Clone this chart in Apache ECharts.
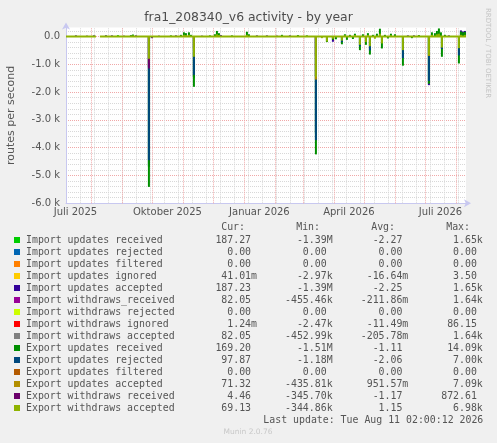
<!DOCTYPE html>
<html>
<head>
<meta charset="utf-8">
<script src="https://cdn.jsdelivr.net/npm/echarts@6.0.0/dist/echarts.min.js"></script>
<style>
  html, body { margin: 0; padding: 0; background: #f0f0f0; }
  #main { width: 497px; height: 443px; }
</style>
</head>
<body>
<div id="main"></div>
<script>
// series names, in munin draw order
const names = [
  'Import updates received',
  'Import updates rejected',
  'Import updates filtered',
  'Import updates ignored',
  'Import updates accepted',
  'Import withdraws_received',
  'Import withdraws rejected',
  'Import withdraws ignored',
  'Import withdraws accepted',
  'Export updates received',
  'Export updates rejected',
  'Export updates filtered',
  'Export updates accepted',
  'Export withdraws received',
  'Export withdraws accepted'
]

const colors = ['#00cc00', '#0066b3', '#ff8000', '#ffcc00', '#330099', '#990099', '#ccff00', '#ff0000',
  '#808080', '#008f00', '#00487d', '#b35a00', '#b38f00', '#6b006b', '#8fb300']

// legend table (as printed)
const curText = ['187.27', '0.00', '0.00', '41.01m', '187.23', '82.05', '0.00', '1.24m', '82.05', '169.20', '97.87', '0.00', '71.32', '4.46', '69.13']
const minText = ['-1.39M', '0.00', '0.00', '-2.97k', '-1.39M', '-455.46k', '0.00', '-2.47k', '-452.99k', '-1.51M', '-1.18M', '0.00', '-435.81k', '-345.70k', '-344.86k']
const avgText = ['-2.27', '0.00', '0.00', '-16.64m', '-2.25', '-211.86m', '0.00', '-11.49m', '-205.78m', '-1.11', '-2.06', '0.00', '951.57m', '-1.17', '1.15']
const maxText = ['1.65k', '0.00', '0.00', '3.50', '1.65k', '1.64k', '0.00', '86.15', '1.64k', '14.09k', '7.00k', '0.00', '7.09k', '872.61', '6.98k']

// days with data (gap in august 2025)
const coverage = [['2025-07-07', '2025-08-06'], ['2025-08-10', '2026-08-11']]

// routes per second, per day (days not listed are ~0)
const importUpdatesReceived = [
  ['2025-08-16', 30], ['2025-08-28', 50], ['2025-09-10', 50], ['2025-09-28', -4700],
  ['2025-11-12', -1500], ['2026-03-14', -3500], ['2026-07-05', -1700]
]
const importUpdatesRejected = []
const importUpdatesFiltered = []
const importUpdatesIgnored = []
const importUpdatesAccepted = [
  ['2025-07-17', 40], ['2025-07-28', 30], ['2025-08-04', 40], ['2025-08-16', 40], ['2025-08-22', 40],
  ['2025-09-03', 30], ['2025-09-10', 30], ['2025-09-15', 40], ['2025-09-28', -4650], ['2025-10-01', -60],
  ['2025-10-08', 30], ['2025-10-25', 40], ['2025-11-12', -1450], ['2025-11-20', 30], ['2025-12-09', 50],
  ['2026-01-14', 40], ['2026-01-24', 40], ['2026-02-03', 30], ['2026-02-16', 40], ['2026-03-14', -3450],
  ['2026-03-31', -190], ['2026-06-14', 40], ['2026-06-20', 40], ['2026-07-05', -1750], ['2026-07-25', 40],
  ['2026-08-06', 220], ['2026-08-08', 180], ['2026-08-10', 200]
]
const importWithdrawsReceived = [['2025-09-28', -1100], ['2026-03-14', -700]]
const importWithdrawsRejected = []
const importWithdrawsIgnored = []
const importWithdrawsAccepted = [['2025-09-28', -1080], ['2026-03-14', -700]]
const exportUpdatesReceived = [
  ['2025-09-12', 70], ['2025-09-28', -5410], ['2025-10-20', 40], ['2025-10-30', 60], ['2025-11-02', 150],
  ['2025-11-04', 120], ['2025-11-07', 150], ['2025-11-09', 60], ['2025-11-12', -1810], ['2025-11-28', 40],
  ['2025-12-03', 80], ['2025-12-05', 200], ['2025-12-07', 120], ['2025-12-20', 40], ['2026-01-04', 170],
  ['2026-01-06', 80], ['2026-02-08', 60], ['2026-02-24', 50], ['2026-03-05', 40], ['2026-03-14', -4240],
  ['2026-03-25', -200], ['2026-03-31', -120], ['2026-04-03', -100], ['2026-04-09', -280], ['2026-04-12', 80],
  ['2026-04-14', -120], ['2026-04-17', 60], ['2026-04-20', -90], ['2026-04-22', 100], ['2026-04-27', -490],
  ['2026-04-30', 80], ['2026-05-03', -300], ['2026-05-05', 120], ['2026-05-07', -650], ['2026-05-10', 60],
  ['2026-05-14', 100], ['2026-05-17', 280], ['2026-05-19', -430], ['2026-05-22', 60], ['2026-05-25', -70],
  ['2026-05-28', 100], ['2026-06-01', 80], ['2026-06-09', -1050], ['2026-06-18', -60], ['2026-06-25', 50],
  ['2026-07-05', -1700], ['2026-07-08', 150], ['2026-07-11', 120], ['2026-07-13', 200], ['2026-07-15', 290],
  ['2026-07-17', 150], ['2026-07-18', -730], ['2026-07-21', 60], ['2026-08-04', -970], ['2026-08-06', 180],
  ['2026-08-08', 150], ['2026-08-10', 170]
]
const exportUpdatesRejected = [
  ['2025-09-28', -4450], ['2025-11-12', -1380], ['2026-03-14', -3730], ['2026-04-09', -200], ['2026-04-27', -350],
  ['2026-05-07', -500], ['2026-06-09', -780], ['2026-07-05', -1600], ['2026-07-18', -450], ['2026-08-04', -680]
]
const exportUpdatesFiltered = []
const exportUpdatesAccepted = [['2025-09-28', -950], ['2025-11-12', -500], ['2026-03-14', -1550], ['2026-07-05', -700]]
const exportWithdrawsReceived = [['2025-09-28', -1150], ['2025-11-12', -400], ['2026-03-14', -1400]]
const exportWithdrawsAccepted = [
  ['2025-09-12', 30], ['2025-09-28', -800], ['2025-10-01', -20], ['2025-11-02', 60], ['2025-11-04', 50],
  ['2025-11-07', 60], ['2025-11-12', -730], ['2025-12-05', 80], ['2025-12-07', 50], ['2026-01-04', 60],
  ['2026-03-14', -1450], ['2026-03-20', -60], ['2026-03-25', -180], ['2026-03-31', -80], ['2026-04-09', -150],
  ['2026-04-12', 40], ['2026-04-22', 50], ['2026-04-27', -300], ['2026-05-03', -200], ['2026-05-05', 50],
  ['2026-05-07', -350], ['2026-05-12', -80], ['2026-05-17', 100], ['2026-05-19', -250], ['2026-05-28', 40],
  ['2026-06-09', -490], ['2026-07-05', -670], ['2026-07-08', 60], ['2026-07-13', 80], ['2026-07-15', 100],
  ['2026-07-18', -400], ['2026-08-04', -420], ['2026-08-06', 60], ['2026-08-10', 60]
]

const seriesData = [
  importUpdatesReceived, importUpdatesRejected, importUpdatesFiltered, importUpdatesIgnored, importUpdatesAccepted,
  importWithdrawsReceived, importWithdrawsRejected, importWithdrawsIgnored, importWithdrawsAccepted,
  exportUpdatesReceived, exportUpdatesRejected, exportUpdatesFiltered, exportUpdatesAccepted,
  exportWithdrawsReceived, exportWithdrawsAccepted
]

// x labels sit in the middle of these months
const labelMonths = ['2025-07', '2025-10', '2026-01', '2026-04', '2026-07']
const monthNames = ['Januar', 'Februar', 'März', 'April', 'Mai', 'Juni', 'Juli', 'August',
  'September', 'Oktober', 'November', 'Dezember']

const t = s => Date.parse(s + 'T00:00:00Z')
const xMin = Date.parse('2025-07-07T02:00:00Z')
const xMax = Date.parse('2026-08-11T02:00:00Z')

const labelValues = labelMonths.map(m => {
  const d = new Date(t(m + '-01'))
  const next = Date.UTC(d.getUTCFullYear(), d.getUTCMonth() + 1, 1)
  return (d.getTime() + next) / 2
})

// vertical grid: month starts (major) and every second monday (minor)
const gridMajor = '#f0a8a8'
const gridMinor = '#d8d8d8'
const vLines = []
for (let d = t('2025-07-21'); d < xMax; d += 14 * 86400000) {
  vLines.push({xAxis: d, lineStyle: {color: gridMinor, type: 'dotted', width: 1}})
}
for (let m = 7; ; m++) {
  const d = Date.UTC(2025, m, 1)
  if (d > xMax) break
  vLines.push({xAxis: d, lineStyle: {color: gridMajor, type: 'dotted', width: 1}})
}

const baseline = []
coverage.forEach(([a, b]) => {
  baseline.push([Math.max(t(a), xMin), 0], [Math.min(t(b), xMax), 0], [t(b) + 86400000, '-'])
})

const font = 'DejaVu Sans'
const mono = 'DejaVu Sans Mono'
const textColor = '#555'
const suffix = s => /[0-9]$/.test(s) ? s + ' ' : s

const tableTexts = []
const headers = [['Cur:', 221.2], ['Min:', 296.2], ['Avg:', 371.2], ['Max:', 446.2]]
headers.forEach(([txt, x]) => {
  tableTexts.push({
    type: 'text', x: x, y: 227.5, silent: true,
    style: {text: txt, fill: textColor, font: '9.9px ' + mono, align: 'left', verticalAlign: 'middle'}
  })
})
const cols = [[curText, 257], [minText, 332.6], [avgText, 408.3], [maxText, 482.8]]
names.forEach((n, i) => {
  cols.forEach(([arr, x]) => {
    tableTexts.push({
      type: 'text', x: x, y: 240 + i * 12, silent: true,
      style: {text: suffix(arr[i]), fill: textColor, font: '9.9px ' + mono, align: 'right', verticalAlign: 'middle'}
    })
  })
})
tableTexts.push({
  type: 'text', x: 483.3, y: 420, silent: true,
  style: {text: 'Last update: Tue Aug 11 02:00:12 2026', fill: textColor, font: '9.9px ' + mono, align: 'right', verticalAlign: 'middle'}
})
tableTexts.push({
  type: 'text', x: 248, y: 432.5, silent: true,
  style: {text: 'Munin 2.0.76', fill: '#c8c8c8', font: '7.5px ' + font, align: 'center', verticalAlign: 'middle'}
})
tableTexts.push({
  type: 'text', x: 487.7, y: 53, rotation: -Math.PI / 2, silent: true,
  style: {text: 'RRDTOOL / TOBI OETIKER', fill: '#c4c4c4', font: '7px ' + font, align: 'center', verticalAlign: 'middle'}
})

const series = names.map((name, i) => ({
  name: name,
  type: 'bar',
  data: seriesData[i].map(d => [t(d[0]), d[1]]),
  barWidth: 2,
  barGap: '-100%',
  yAxisIndex: 1,
  itemStyle: {color: colors[i]},
  z: 2
}))

series.push({
  name: 'zero',
  type: 'line',
  yAxisIndex: 1,
  data: baseline,
  symbol: 'none',
  silent: true,
  z: 3,
  lineStyle: {color: '#8fb300', width: 2},
  markLine: {
    silent: true,
    symbol: 'none',
    z: 1,
    label: {show: false},
    data: vLines
  }
})

const chart = echarts.init(document.getElementById('main'))
chart.setOption({
  animation: false,
  backgroundColor: '#f0f0f0',
  title: {
    text: 'fra1_208340_v6 activity - by year',
    left: 'center',
    top: 12,
    padding: 0,
    textStyle: {fontFamily: font, fontSize: 12.4, fontWeight: 'normal', color: '#4d4d4d'}
  },
  grid: {
    left: 66,
    right: 31,
    top: 27.6,
    bottom: 239.7,
    outerBoundsMode: 'none',
    containLabel: false,
    show: true,
    backgroundColor: '#ffffff',
    borderWidth: 0
  },
  legend: {
    data: names,
    orient: 'vertical',
    left: 14,
    top: 234,
    padding: 0,
    itemGap: 0,
    itemWidth: 6,
    itemHeight: 6,
    icon: 'rect',
    selectedMode: false,
    textStyle: {fontFamily: mono, fontSize: 9.9, color: textColor, lineHeight: 12, padding: [0, 0, 0, 1]}
  },
  xAxis: {
    type: 'value',
    min: xMin,
    max: xMax,
    axisLine: {
      show: true,
      onZero: false,
      lineStyle: {color: '#c8c8f0'},
      symbol: ['none', 'arrow'],
      symbolSize: [6, 7],
      symbolOffset: [0, 5]
    },
    axisTick: {show: false},
    splitLine: {show: false},
    axisLabel: {
      customValues: labelValues,
      margin: 4,
      fontFamily: font,
      fontSize: 10,
      color: textColor,
      formatter: v => {
        const d = new Date(v)
        return monthNames[d.getUTCMonth()] + ' ' + d.getUTCFullYear()
      }
    }
  },
  yAxis: [
    {
      type: 'value',
      position: 'left',
      min: -6000,
      max: 320,
      interval: 200,
      axisLine: {show: false},
      axisTick: {show: false},
      axisLabel: {show: false},
      splitLine: {show: true, showMaxLine: false, lineStyle: {color: gridMinor, type: 'dotted'}}
    },
    {
      type: 'value',
      position: 'left',
      min: -6000,
      max: 320,
      interval: 1000,
      name: 'routes per second',
      nameLocation: 'middle',
      nameGap: 49.5,
      nameTextStyle: {fontFamily: font, fontSize: 11, color: textColor},
      axisLine: {
        show: true,
        onZero: false,
        lineStyle: {color: '#c8c8f0'},
        symbol: ['none', 'arrow'],
        symbolSize: [6, 7],
        symbolOffset: [0, 5]
      },
      axisTick: {show: false},
      axisLabel: {
        margin: 6,
        fontFamily: font,
        fontSize: 10,
        color: textColor,
        formatter: v => v === 0 ? '0.0' : v > 0 ? '' : (v / 1000).toFixed(1) + ' k'
      },
      splitLine: {show: true, showMaxLine: false, lineStyle: {color: gridMajor, type: 'dotted'}}
    }
  ],
  graphic: tableTexts,
  series: series
})
</script>
</body>
</html>
